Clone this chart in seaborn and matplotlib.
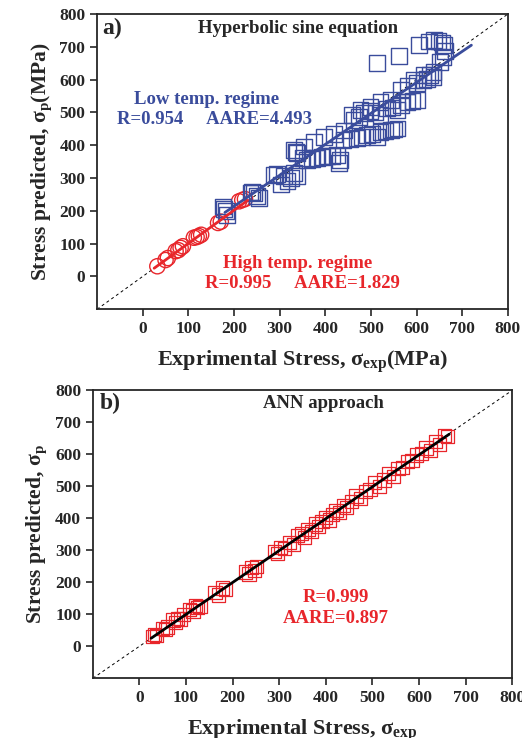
import numpy as np
import pandas as pd
import matplotlib
matplotlib.use("Agg")
import matplotlib.pyplot as plt
import seaborn as sns

sns.set_style("ticks")
plt.rcParams["font.family"] = ["Liberation Serif", "DejaVu Serif"]
plt.rcParams["font.weight"] = "bold"
plt.rcParams["mathtext.fontset"] = "custom"
plt.rcParams["mathtext.rm"] = "Liberation Serif:bold"
plt.rcParams["mathtext.it"] = "Liberation Serif:bold"
plt.rcParams["mathtext.bf"] = "Liberation Serif:bold"

BLUE = "#3a4c9c"
RED = "#e8262b"

# panel a: high temperature regime (circles)
high_exp = [32, 50, 55, 72, 78, 83, 88, 112, 118, 123, 128, 165, 171, 211, 218, 224]
high_pred = [31, 50, 56, 77, 80, 87, 92, 118, 120, 123, 127, 163, 167, 229, 233, 236]

# panel a: low temperature regime (squares)
low_exp = [175, 178, 182, 185, 236, 240, 244, 251, 254,
           287, 295, 302, 309, 317, 325, 331, 338,
           331, 336, 353, 375, 397, 419, 441, 459, 477, 499, 521, 543, 565, 580, 594, 615, 637, 652,
           658, 662, 660, 655, 648, 638, 628, 605, 561, 513,
           338, 350, 360, 371, 382, 393, 404, 415, 426, 433, 430,
           440, 455, 469, 480, 491, 502, 513, 521, 532, 543, 551, 558,
           462, 473, 484, 497, 510, 521, 536, 547, 558, 565, 580, 591, 602,
           600, 615, 622, 630, 637]
low_pred = [213, 206, 200, 188, 256, 258, 254, 244, 239,
            310, 312, 280, 305, 290, 300, 315, 305,
            385, 380, 396, 410, 425, 435, 445, 492, 507, 517, 532, 537, 568, 580, 598, 613, 623, 654,
            670, 688, 705, 713, 718, 720, 716, 705, 672, 650,
            376, 362, 356, 358, 361, 363, 366, 368, 371, 356, 346,
            416, 418, 421, 425, 431, 433, 426, 441, 443, 446, 448, 451,
            477, 487, 497, 505, 500, 492, 512, 515, 507, 522, 532, 535, 537,
            590, 598, 603, 613, 608]

# fitted lines
low_fit_x = [180, 720]
low_fit_y = [195, 705]
high_fit_x = [25, 230]
high_fit_y = [25, 232]

# panel b: ANN approach
ann_exp = [28, 33, 36, 50, 55, 60, 72, 78, 82, 88, 95, 108, 115, 120, 125, 130,
           162, 170, 178, 185, 228, 235, 240, 247, 252, 290, 297, 303, 312, 322, 330,
           340, 348, 355, 362, 370, 378, 385, 392, 400, 408, 415, 422, 430, 438, 445,
           455, 465, 475, 485, 495, 505, 515, 525, 535, 545, 555, 565, 575, 585, 595,
           605, 615, 625, 635, 645, 655, 662]
ann_pred = [30, 36, 33, 56, 52, 60, 82, 75, 88, 85, 98, 115, 110, 128, 120, 125,
            168, 160, 182, 178, 232, 226, 245, 238, 250, 296, 290, 310, 305, 325, 318,
            345, 352, 340, 365, 360, 382, 375, 390, 402, 395, 412, 425, 418, 440, 435,
            452, 470, 462, 485, 490, 512, 500, 520, 540, 530, 556, 560, 578, 580, 598,
            602, 620, 612, 640, 632, 660, 655]
ann_fit_x = [25, 665]
ann_fit_y = [25, 663]

df_high = pd.DataFrame({"exp": high_exp, "pred": high_pred})
df_low = pd.DataFrame({"exp": low_exp, "pred": low_pred})
df_ann = pd.DataFrame({"exp": ann_exp, "pred": ann_pred})

ticks = [0, 100, 200, 300, 400, 500, 600, 700, 800]

fig = plt.figure(figsize=(5.22, 7.38), dpi=100)
ax1 = fig.add_axes([0.186, 0.581, 0.787, 0.400])
ax2 = fig.add_axes([0.178, 0.081, 0.803, 0.390])

for ax in (ax1, ax2):
    ax.plot([-100, 800], [-100, 800], ls=(0, (3, 3)), color="black", lw=0.7, zorder=1)

sns.scatterplot(data=df_high, x="exp", y="pred", ax=ax1, marker="o", s=120,
                facecolors="none", edgecolor=RED, linewidth=1.0, zorder=3)
sns.scatterplot(data=df_low, x="exp", y="pred", ax=ax1, marker="s", s=130,
                facecolors="none", edgecolor=BLUE, linewidth=1.0, zorder=3)
sns.lineplot(x=low_fit_x, y=low_fit_y, ax=ax1, color=BLUE, lw=2, zorder=4)
sns.lineplot(x=high_fit_x, y=high_fit_y, ax=ax1, color=RED, lw=2, zorder=4)

sns.scatterplot(data=df_ann, x="exp", y="pred", ax=ax2, marker="s", s=90,
                facecolors="none", edgecolor=RED, linewidth=0.9, zorder=3)
sns.lineplot(x=ann_fit_x, y=ann_fit_y, ax=ax2, color="black", lw=2, zorder=4)

for ax in (ax1, ax2):
    ax.set_xlim(-100, 800)
    ax.set_ylim(-100, 800)
    ax.set_xticks(ticks)
    ax.set_yticks(ticks)
    ax.tick_params(labelsize=12.5, direction="out", length=5, width=1.2,
                   top=False, right=False)
    for lab in ax.get_xticklabels() + ax.get_yticklabels():
        lab.set_fontweight("bold")
    for sp in ax.spines.values():
        sp.set_linewidth(1.3)
        sp.set_visible(True)

ax1.set_xlabel("Exprimental Stress, σ$_{\\mathrm{exp}}$(MPa)", fontsize=16, fontweight="bold", labelpad=8)
ax1.set_ylabel("Stress predicted, σ$_{\\mathrm{p}}$(MPa)", fontsize=15.5, fontweight="bold", labelpad=4)
ax2.set_xlabel("Exprimental Stress, σ$_{\\mathrm{exp}}$", fontsize=16, fontweight="bold", labelpad=8)
ax2.set_ylabel("Stress predicted, σ$_{\\mathrm{p}}$", fontsize=15.5, fontweight="bold", labelpad=4)

ax1.text(-88, 757, "a)", fontsize=17, fontweight="bold", va="center", ha="left")
ax1.text(341, 757, "Hyperbolic sine equation", fontsize=13.5, fontweight="bold", ha="center", va="center")
ax1.text(140, 538, "Low temp. regime", fontsize=13.5, fontweight="bold", color=BLUE, ha="center", va="center")
ax1.text(158, 477, "R=0.954     AARE=4.493", fontsize=13.5, fontweight="bold", color=BLUE, ha="center", va="center")
ax1.text(339, 40, "High temp. regime", fontsize=13.5, fontweight="bold", color=RED, ha="center", va="center")
ax1.text(350, -21, "R=0.995     AARE=1.829", fontsize=13.5, fontweight="bold", color=RED, ha="center", va="center")

ax2.text(-85, 760, "b)", fontsize=17, fontweight="bold", va="center", ha="left")
ax2.text(394, 760, "ANN approach", fontsize=13.5, fontweight="bold", ha="center", va="center")
ax2.text(421, 153, "R=0.999", fontsize=13.5, fontweight="bold", color=RED, ha="center", va="center")
ax2.text(421, 87, "AARE=0.897", fontsize=13.5, fontweight="bold", color=RED, ha="center", va="center")

fig.savefig("out.png", dpi=100)
